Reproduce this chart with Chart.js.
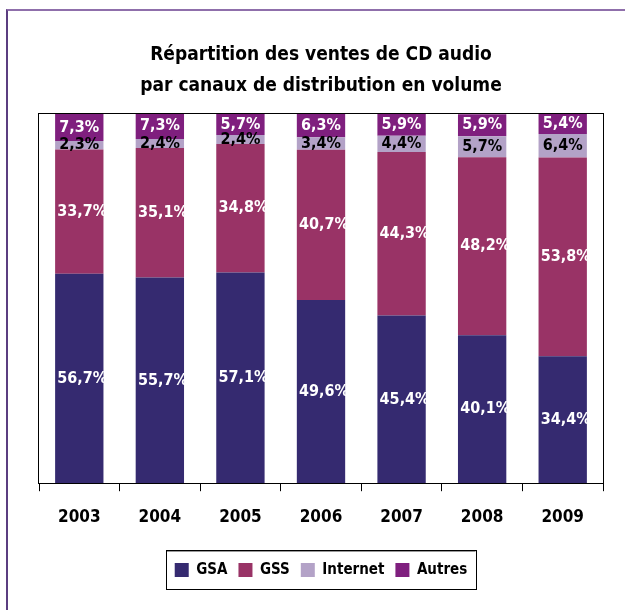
<!DOCTYPE html>
<html><head><meta charset="utf-8">
<script src="https://cdn.jsdelivr.net/npm/chart.js@4.4.0/dist/chart.umd.min.js"></script>
<style>
html,body{margin:0;padding:0;background:#fff;overflow:hidden;}
#wrap{position:relative;width:625px;height:610px;overflow:hidden;}
#frame{position:absolute;left:6px;top:9px;width:700px;height:700px;border:2px solid #8f6fab;border-left-color:#5b3d80;box-sizing:border-box;}
canvas{position:absolute;left:0;top:0;}
</style></head><body>
<div id="wrap"><div id="frame"></div><canvas id="c" width="625" height="610"></canvas></div>
<script>
const categories = ['2003','2004','2005','2006','2007','2008','2009'];
const gsa      = [56.7, 55.7, 57.1, 49.6, 45.4, 40.1, 34.4];
const gss      = [33.7, 35.1, 34.8, 40.7, 44.3, 48.2, 53.8];
const internet = [2.3, 2.4, 2.4, 3.4, 4.4, 5.7, 6.4];
const autres   = [7.3, 7.3, 5.7, 6.3, 5.9, 5.9, 5.4];
const seriesNames = ['GSA', 'GSS', 'Internet', 'Autres'];
const titleLines = ['Répartition des ventes de CD audio', 'par canaux de distribution en volume'];

const FAM = "'Liberation Sans Narrow', 'DejaVu Sans Condensed', 'Arial Narrow', sans-serif";
const colors = ['#352A70', '#993366', '#B3A2C7', '#7F1F7E'];
const labelColors = ['#fff', '#fff', '#000', '#fff'];
const labelDx = [3, 3, 0, 0];

const fmt = v => v.toFixed(1).replace('.', ',') + '%';

const valuePlugin = {
  id: 'vals',
  afterDatasetsDraw(chart) {
    const ctx = chart.ctx;
    ctx.save();
    ctx.font = 'bold 16px ' + FAM;
    ctx.textAlign = 'center';
    ctx.textBaseline = 'middle';
    chart.data.datasets.forEach((ds, di) => {
      const meta = chart.getDatasetMeta(di);
      meta.data.forEach((el, i) => {
        const p = el.getProps(['x', 'y', 'base'], true);
        ctx.fillStyle = labelColors[di];
        ctx.fillText(fmt(ds.data[i]), p.x + labelDx[di], (p.y + p.base) / 2);
      });
    });
    ctx.restore();
  }
};

const framePlugin = {
  id: 'frames',
  afterDraw(chart) {
    const ctx = chart.ctx;
    const a = chart.chartArea;
    ctx.save();
    ctx.strokeStyle = '#000';
    ctx.lineWidth = 1;
    ctx.strokeRect(Math.round(a.left) - 0.5, Math.round(a.top) - 0.5, Math.round(a.right - a.left) + 1, Math.round(a.bottom - a.top) + 1);
    const hb = chart.legend.legendHitBoxes;
    if (hb && hb.length) {
      const l = Math.min(...hb.map(h => h.left)) - 8.5;
      const r = Math.max(...hb.map(h => h.left + h.width)) + 9;
      const t = hb[0].top - 12.5;
      const h = 39;
      ctx.strokeStyle = '#999';
      ctx.beginPath();
      ctx.moveTo(Math.round(l) + 0.5, Math.round(t) + 1.5);
      ctx.lineTo(Math.round(r) - 0.5, Math.round(t) + 1.5);
      ctx.stroke();
      ctx.strokeStyle = '#000';
      ctx.strokeRect(Math.round(l) + 0.5, Math.round(t) + 0.5, Math.round(r - l), h);
    }
    ctx.restore();
  }
};

const datasets = [gsa, gss, internet, autres].map((d, i) => ({
  label: seriesNames[i],
  data: d,
  backgroundColor: colors[i],
  borderWidth: 0,
  barPercentage: 0.6,
  categoryPercentage: 1.0
}));

new Chart(document.getElementById('c'), {
  type: 'bar',
  data: { labels: categories, datasets },
  options: {
    responsive: false,
    animation: false,
    events: [],
    layout: { padding: { top: 30, left: 39, right: 22, bottom: 22.5 } },
    plugins: {
      title: {
        display: true,
        text: titleLines,
        color: '#000',
        font: { family: FAM, size: 19, weight: 'bold', lineHeight: 31 / 19 },
        padding: { top: 9.5, bottom: 12.5 }
      },
      legend: {
        display: true,
        position: 'bottom',
        labels: {
          boxWidth: 14, boxHeight: 14, padding: 11, color: '#000',
          font: { family: FAM, size: 15, weight: 'bold' }
        }
      },
      tooltip: { enabled: false }
    },
    scales: {
      x: {
        stacked: true,
        offset: true,
        grid: { offset: true, drawOnChartArea: false, tickLength: 8, color: '#000', lineWidth: 1 },
        border: { color: '#000', width: 1 },
        ticks: { color: '#000', font: { family: FAM, size: 17, weight: 'bold' }, padding: 15.8, maxRotation: 0 },
        title: { display: true, text: '', font: { size: 1 }, padding: { top: 7.1, bottom: 0 } }
      },
      y: {
        stacked: true,
        display: false,
        min: 0,
        max: 100
      }
    }
  },
  plugins: [valuePlugin, framePlugin]
});
</script>
</body></html>
